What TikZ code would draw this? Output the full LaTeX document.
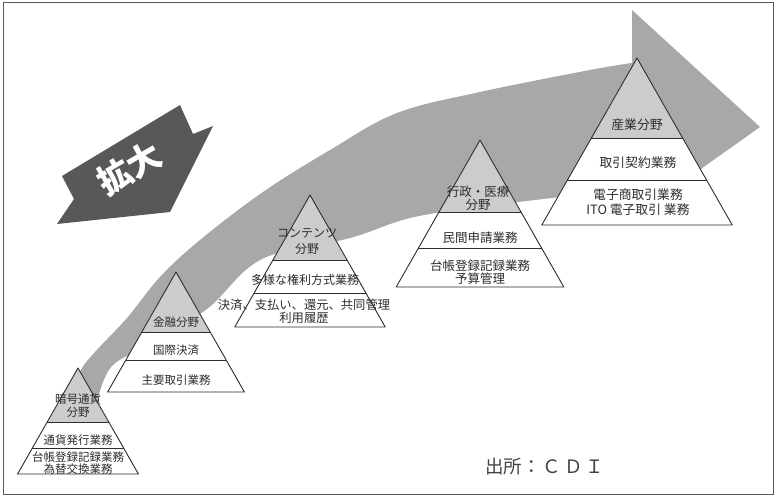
\documentclass[tikz,border=0pt]{standalone}
\usepackage{fontspec}
\setmainfont{Noto Sans CJK JP}
\definecolor{shaftgray}{RGB}{168,168,168}
\definecolor{topgray}{RGB}{204,204,204}
\definecolor{bannergray}{RGB}{88,88,88}
\definecolor{inkgray}{RGB}{45,45,45}
\tikzset{
  pyrline/.style={draw=inkgray,line width=0.9pt,line join=round},
  pyrtop/.style={fill=topgray},
  pyrwhite/.style={fill=white},
  lbl/.style={text=inkgray,inner sep=0pt,align=center,font=\fontsize{11.5}{13}\selectfont},
  lblbig/.style={lbl,font=\fontsize{12.8}{15}\selectfont},
}
\newcommand\mypyr[5]{%
  \pgfmathsetmacro\ha{0.57*(#3-#2)}%
  \pgfmathsetmacro\hb{0.57*(#4-#2)}%
  \pgfmathsetmacro\hc{0.57*(#5-#2)}%
  \fill[pyrwhite] (#1-\hc,#5) -- (#1+\hc,#5) -- (#1,#2) -- cycle;
  \fill[pyrtop] (#1,#2) -- (#1-\ha,#3) -- (#1+\ha,#3) -- cycle;
  \draw[pyrline] (#1,#2) -- (#1-\hc,#5) -- (#1+\hc,#5) -- cycle;
  \draw[pyrline] (#1-\ha,#3) -- (#1+\ha,#3);
  \draw[pyrline] (#1-\hb,#4) -- (#1+\hb,#4);
}
\begin{document}
\begin{tikzpicture}[x=1pt,y=-1pt]
\useasboundingbox (0,0) rectangle (775,496);
\fill[white] (0,0) rectangle (775,496);
\draw[inkgray!80,line width=0.8pt] (3,2) rectangle (773,494);

% big curved arrow
\fill[shaftgray]
  plot[smooth,tension=0.6] coordinates {(76,398) (80,372) (95,352) (127,318) (160,277) (200,240) (263,192) (330,150) (397,113) (480,92) (590,70) (632,63)}
  -- (632,10) -- (760,127) -- (650,205) -- (640,188)
  -- plot[smooth,tension=0.6] coordinates {(640,188) (560,197) (480,207) (410,218) (350,238) (262,259) (207,309) (150,344) (112,366) (98,398)}
  -- cycle;

% banner
\fill[bannergray] (62,176) -- (180,105) -- (193,134) -- (213,126) -- (170,212) -- (57,224) -- (74,199) -- cycle;
\node[text=white,inner sep=0pt,rotate=30,font=\fontsize{34}{34}\selectfont\bfseries] (kakudai) at (129,168) {拡大};

% pyramids
\mypyr{78}{368}{422}{448}{474}
\mypyr{176}{272}{332}{360}{392}
\mypyr{310}{195}{260}{293}{327}
\mypyr{480}{140}{212}{248}{287}
\mypyr{637}{58}{138}{180}{225}

% pyramid 1
\node[lbl] (p1a) at (78,405.5) {暗号通貨\\分野};
\node[lbl] (p1b) at (78,440) {通貨発行業務};
\node[lbl,font=\fontsize{11.5}{12}\selectfont] (p1c) at (78,463) {台帳登録記録業務\\為替交換業務};
% pyramid 2
\node[lbl] (p2a) at (176,322) {金融分野};
\node[lbl] (p2b) at (176,350) {国際決済};
\node[lbl] (p2c) at (176,380) {主要取引業務};
% pyramid 3
\node[lbl,font=\fontsize{12}{16}\selectfont] (p3a) at (307,241) {コンテンツ\\分野};
\node[lbl,font=\fontsize{12}{13}\selectfont] (p3b) at (305,280) {多様な権利方式業務};
\node[lbl,font=\fontsize{12.3}{13}\selectfont] (p3c) at (304,311.5) {決済、支払い、還元、共同管理\\利用履歴};
% pyramid 4
\node[lbl,font=\fontsize{12.5}{13}\selectfont] (p4a) at (478,198.5) {行政・医療\\分野};
\node[lbl,font=\fontsize{12.5}{13}\selectfont] (p4b) at (480,238) {民間申請業務};
\node[lbl,font=\fontsize{12.5}{13}\selectfont] (p4c) at (480,272.5) {台帳登録記録業務\\予算管理};
% pyramid 5
\node[lblbig] (p5a) at (637,125) {産業分野};
\node[lblbig] (p5b) at (638,163) {取引契約業務};
\node[lblbig] (p5c) at (638,202.5) {電子商取引業務\\ITO 電子取引 業務};

% source
\node[text=inkgray!90,inner sep=0pt,anchor=west,font=\fontsize{18.5}{20}\selectfont] (src) at (485,467) {出所：\hspace{2pt}Ｃ\hspace{3pt}Ｄ\hspace{3pt}Ｉ};
\end{tikzpicture}
\end{document}
